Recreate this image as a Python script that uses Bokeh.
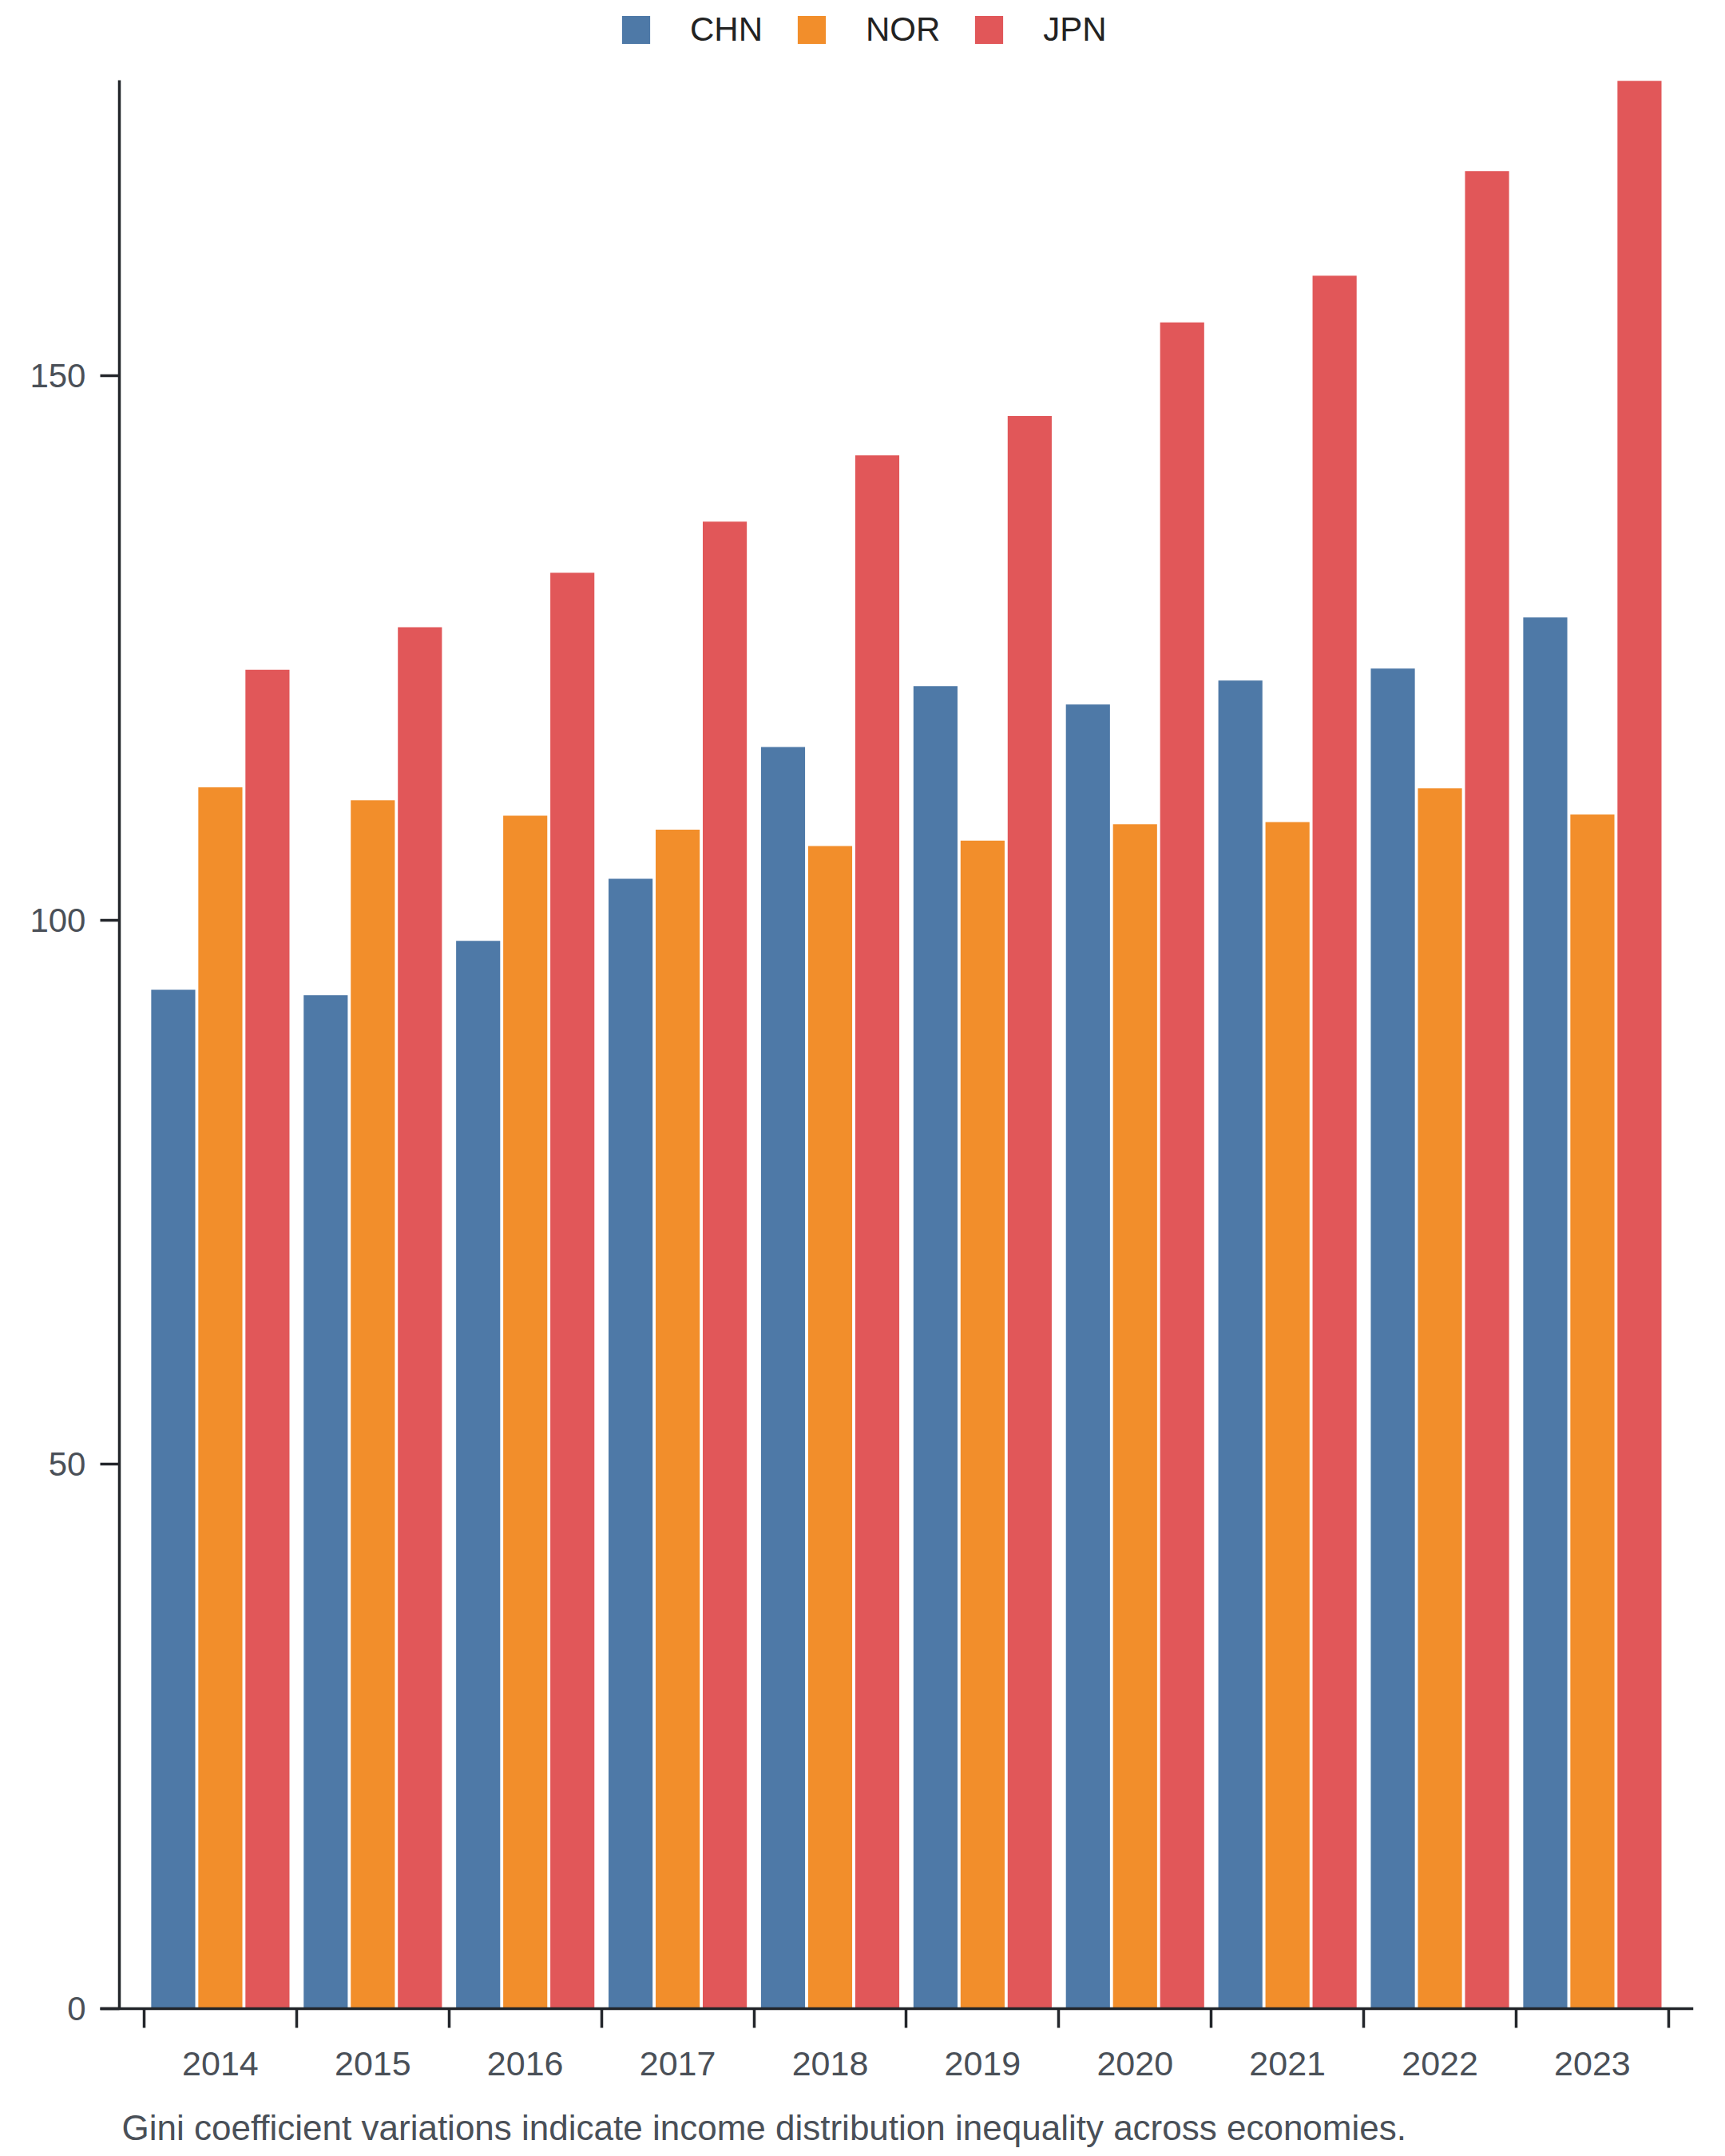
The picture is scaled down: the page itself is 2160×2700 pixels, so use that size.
from bokeh.plotting import figure
from bokeh.models import FixedTicker, Legend, LegendItem, Label, Range1d, ColumnDataSource
from bokeh.transform import dodge
from bokeh.embed import file_html
from bokeh.resources import INLINE

years = ["2014", "2015", "2016", "2017", "2018", "2019", "2020", "2021", "2022", "2023"]
chn = [93.6, 93.1, 98.1, 103.8, 115.9, 121.5, 119.8, 122.0, 123.1, 127.8]
nor = [112.2, 111.0, 109.6, 108.3, 106.8, 107.3, 108.8, 109.0, 112.1, 109.7]
jpn = [123.0, 126.9, 131.9, 136.6, 142.7, 146.3, 154.9, 159.2, 168.8, 177.1]
series = ["CHN", "NOR", "JPN"]
colors = ["#4e79a7", "#f28e2b", "#e15759"]
y_ticks = [0, 50, 100, 150]
caption = "Gini coefficient variations indicate income distribution inequality across economies."

FONT = "Liberation Sans"
AXIS = "#23262b"
TXT = "#4a5058"

xs = [i + 0.5 for i in range(len(years))]
src = ColumnDataSource(dict(x=xs, CHN=chn, NOR=nor, JPN=jpn))

# frame covers the whole canvas; axes are pinned with fixed_location
p = figure(width=2144, height=2700, output_backend="svg", toolbar_location=None,
           x_range=Range1d(-0.9428, 10.163), y_range=Range1d(-13.57, 184.485),
           min_border_left=0, min_border_right=24, min_border_top=0, min_border_bottom=0)
p.outline_line_color = None
p.xgrid.visible = False
p.ygrid.visible = False
p.background_fill_color = "white"
p.title.visible = False

offsets = [-0.309, 0.0, 0.309]
items = []
for s, c, o in zip(series, colors, offsets):
    r = p.vbar(x=dodge("x", o), top=s, width=0.289, bottom=0, source=src,
               fill_color=c, line_color=None)
    items.append(LegendItem(label=s, renderers=[r]))

# x axis
xa = p.xaxis[0]
xa.fixed_location = 0
xa.bounds = (-0.288, 10.163)
xa.ticker = FixedTicker(ticks=xs, minor_ticks=list(range(len(years) + 1)))
xa.major_label_overrides = {x: y for x, y in zip(xs, years)}
xa.major_tick_out = 0
xa.major_tick_in = 0
xa.minor_tick_out = 24
xa.minor_tick_in = 0
xa.minor_tick_line_width = 3.5
xa.minor_tick_line_color = AXIS
xa.axis_line_width = 3.5
xa.axis_line_color = AXIS
xa.major_label_text_font = FONT
xa.major_label_text_font_size = "43px"
xa.major_label_text_color = TXT
xa.major_label_standoff = 30

# y axis
ya = p.yaxis[0]
ya.fixed_location = -0.1623
ya.bounds = (0, 177.15)
ya.ticker = FixedTicker(ticks=y_ticks, minor_ticks=[])
ya.axis_line_color = AXIS
ya.axis_line_width = 3.5
ya.major_tick_in = 0
ya.major_tick_out = 24
ya.major_tick_line_width = 3.5
ya.major_tick_line_color = AXIS
ya.minor_tick_line_color = None
ya.major_label_text_font = FONT
ya.major_label_text_font_size = "42px"
ya.major_label_text_color = TXT
ya.major_label_standoff = 18

legend = Legend(items=items, orientation="horizontal", location=(774, 2639),
                glyph_width=44, glyph_height=44, label_height=42, label_standoff=46, spacing=39,
                label_text_font=FONT, label_text_font_size="42px", label_text_color="#222222",
                border_line_color=None, background_fill_alpha=0, padding=0, margin=0)
p.add_layout(legend, "center")

cap = Label(x=152, y=36, x_units="screen", y_units="screen", text=caption,
            text_font=FONT, text_font_size="44px", text_color=TXT,
            text_baseline="middle", text_align="left")
p.add_layout(cap)

open("out.html", "w").write(file_html(p, INLINE))
